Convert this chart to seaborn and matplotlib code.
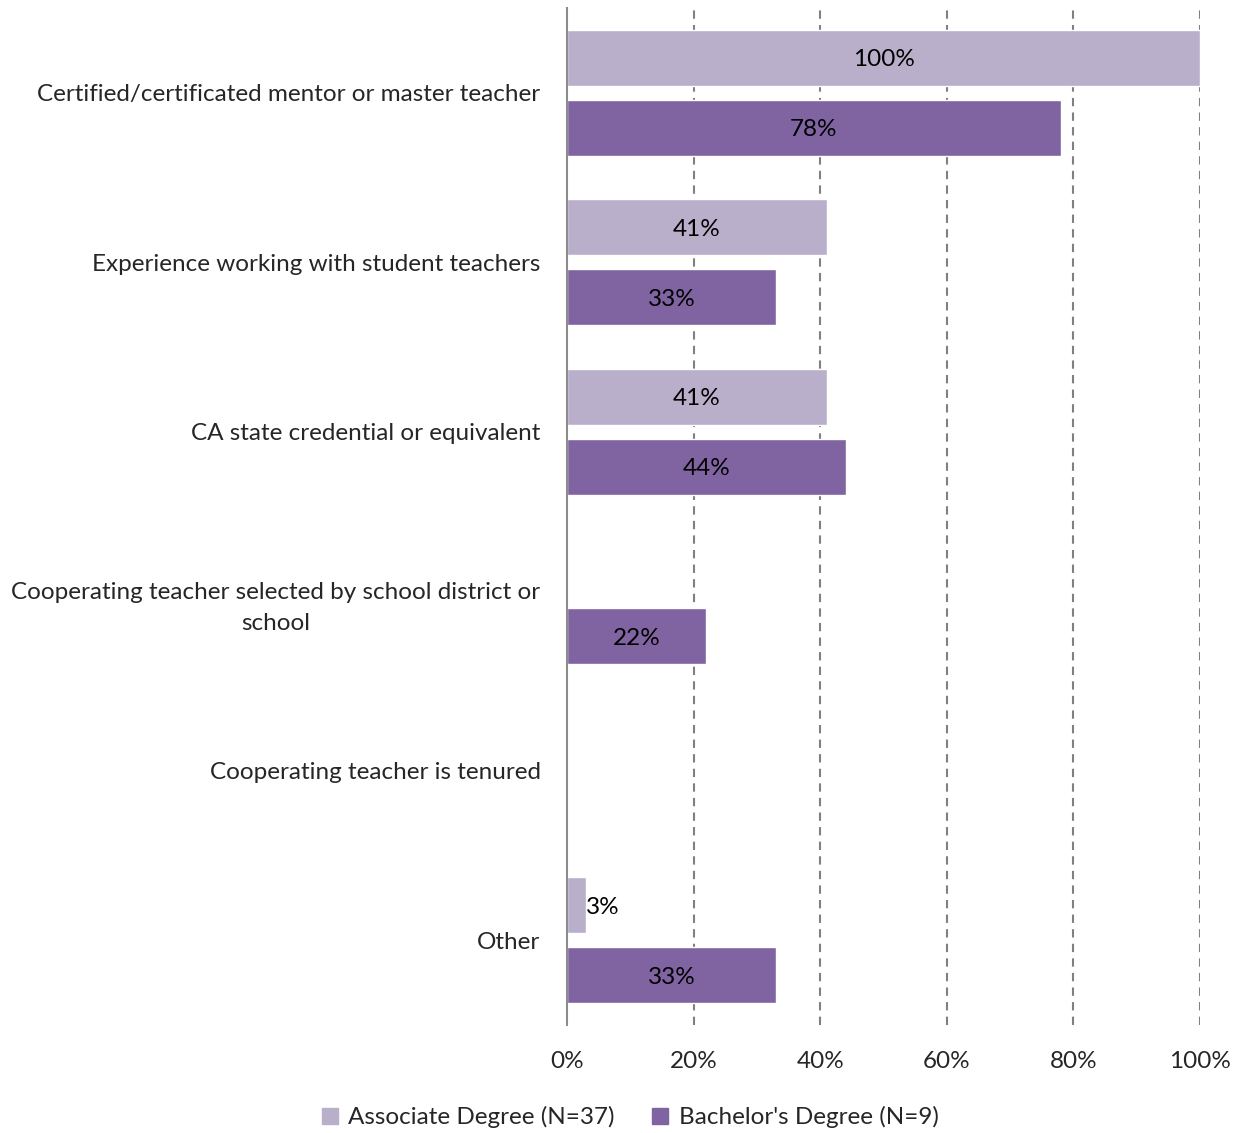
import matplotlib
matplotlib.use("Agg")
import matplotlib.pyplot as plt
from matplotlib.lines import Line2D
import seaborn as sns
import pandas as pd

categories = [
    "Certified/certificated mentor or master teacher",
    "Experience working with student teachers",
    "CA state credential or equivalent",
    "Cooperating teacher selected by school district or\nschool",
    "Cooperating teacher is tenured",
    "Other",
]
associate = [100, 41, 41, 0, 0, 3]
bachelor = [78, 33, 44, 22, 0, 33]
series_names = ["Associate Degree (N=37)", "Bachelor's Degree (N=9)"]
x_ticks = [0, 20, 40, 60, 80, 100]
x_tick_labels = ["0%", "20%", "40%", "60%", "80%", "100%"]

colors = ["#B9AFCA", "#8064A2"]
FS = 17.5

sns.set_theme(style="white")
plt.rcParams["font.family"] = ["Lato", "DejaVu Sans"]

df = pd.DataFrame({
    "category": categories * 2,
    "value": associate + bachelor,
    "series": [series_names[0]] * len(categories) + [series_names[1]] * len(categories),
})

fig = plt.figure(figsize=(12.44, 11.33), dpi=100)
ax = fig.add_axes([567 / 1244, 1 - 1025 / 1133, (1200 - 567) / 1244, (1025 - 8) / 1133])

sns.barplot(
    data=df, y="category", x="value", hue="series", order=categories,
    hue_order=series_names, palette=colors, orient="h",
    width=0.8235, gap=0.2, saturation=1, ax=ax, legend=False,
)

# value labels: centered inside, or just past the end for very short bars
for container, vals in zip(ax.containers, [associate, bachelor]):
    for patch, v in zip(container.patches, vals):
        if v == 0:
            continue
        yc = patch.get_y() + patch.get_height() / 2
        if v < 8:
            ax.text(v, yc, f"{v}%", ha="left", va="center_baseline", fontsize=FS, color="black")
        else:
            ax.text(v / 2, yc, f"{v}%", ha="center", va="center_baseline", fontsize=FS, color="black")

ax.set_xlim(0, 100)
ax.set_ylim(5.5, -0.5)
ax.set_xticks(x_ticks)
ax.set_xticklabels(x_tick_labels, fontsize=FS)
ax.set_xlabel("")
ax.set_ylabel("")
ax.tick_params(axis="x", length=0, pad=19)
ax.tick_params(axis="y", length=0, pad=19)
for lbl in ax.get_yticklabels():
    lbl.set_fontsize(FS)
    lbl.set_multialignment("center")
    lbl.set_linespacing(1.6)

for x in x_ticks[1:]:
    ax.axvline(x, color="#808080", linestyle=(0, (4, 3)), linewidth=1.5, zorder=0)

for side in ["top", "right", "bottom"]:
    ax.spines[side].set_visible(False)
ax.spines["left"].set_color("#8C8C8C")
ax.spines["left"].set_linewidth(1.5)

handles = [
    Line2D([0], [0], marker="s", linestyle="none", markersize=11,
           markerfacecolor=c, markeredgecolor=c)
    for c in colors
]
fig.legend(handles, series_names, loc="center", bbox_to_anchor=(628 / 1244, 1 - 1117 / 1133),
           ncol=2, frameon=False, fontsize=FS, handletextpad=0.25, columnspacing=1.4,
           handlelength=1.0)

fig.savefig("out.png", dpi=100)
